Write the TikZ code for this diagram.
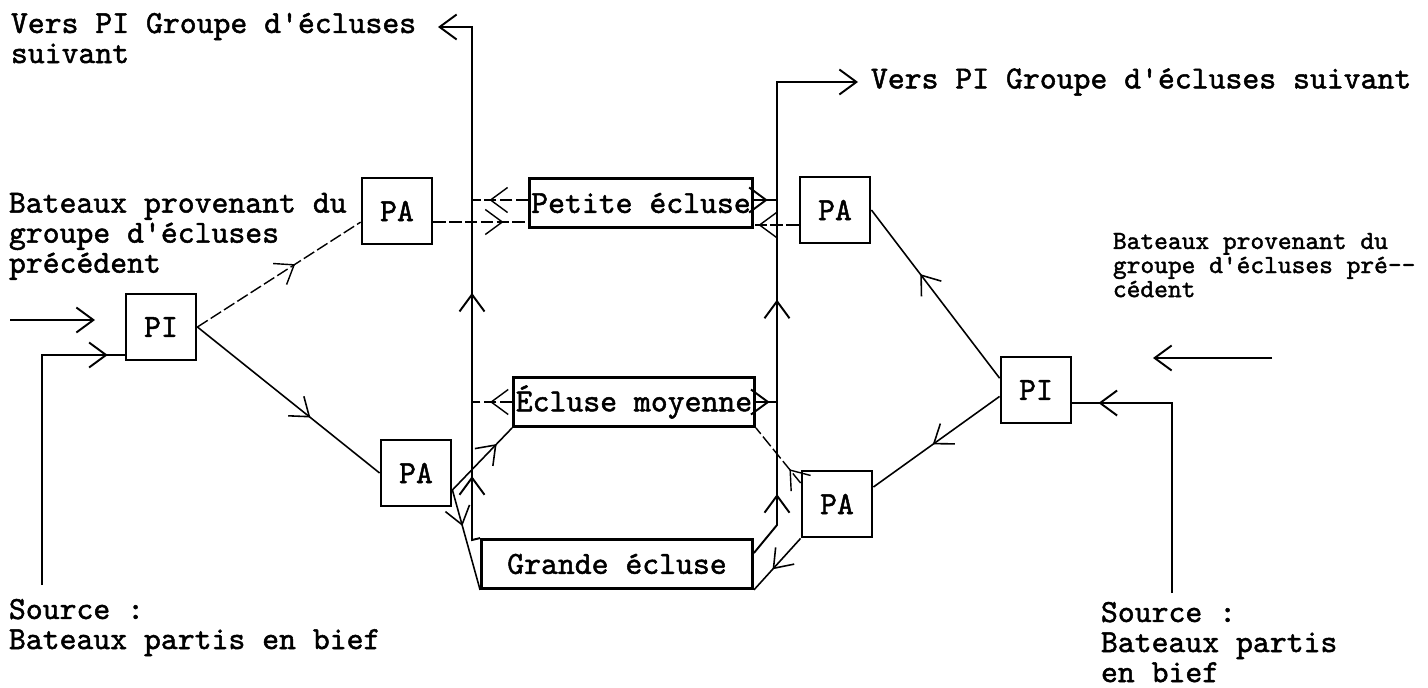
\documentclass[tikz,border=0pt]{standalone}
\usepackage{fontspec}
\setmonofont{lmmono10-regular.otf}[FakeBold=1.5]
\usetikzlibrary{positioning,arrows.meta,decorations.markings}

\begin{document}
\begin{tikzpicture}[x=0.2mm,y=-0.2mm,line width=1.1pt,
  >={Straight Barb[length=3.4mm,width=5mm]},
  font=\ttfamily\fontsize{18.3}{17.1}\selectfont,
  poste/.style={draw,line width=1.6pt,minimum width=14mm,minimum height=13.2mm,inner sep=0pt},
  ecluse/.style={draw,line width=1.6pt,minimum height=9.8mm,inner sep=0pt},
  txt/.style={anchor=north west,align=left,inner sep=0pt},
  mid/.style={postaction={decorate,decoration={markings,mark=at position #1 with {\arrow{>}}}}},
  tiret/.style={dash pattern=on 7pt off 2pt,line width=0.8pt},
  fin/.style={line width=0.9pt}]
  \useasboundingbox (0,0) rectangle (1428,688);

  % postes
  \node[poste] (piL) at (161,327) {PI};
  \node[poste] (paLT) at (397,211) {PA};
  \node[poste] (paLB) at (416,473) {PA};
  \node[poste] (paRT) at (835,210) {PA};
  \node[poste] (paRB) at (837,504) {PA};
  \node[poste] (piR) at (1036,390) {PI};
  % ecluses
  \node[ecluse,minimum width=44.6mm] (petite) at (641,203) {Petite écluse};
  \node[ecluse,minimum width=48.2mm] (moyenne) at (634,402) {Écluse moyenne};
  \node[ecluse,minimum width=54.2mm] (grande) at (617,564) {Grande écluse};

  % collecteurs
  \coordinate (cLh) at (472,27);
  \coordinate (cLb) at (472,540);
  \coordinate (vL) at (438,27);
  \coordinate (cRh) at (777,82);
  \coordinate (cRb) at (777,525);
  \coordinate (vR) at (858,82);
  \coordinate (eL) at (10,320);
  \coordinate (eLp) at (95,320);
  \coordinate (sL) at (42,585);
  \coordinate (eR) at (1272,358);
  \coordinate (eRp) at (1153,358);
  \coordinate (sR) at (1172,593);

  % textes
  \node[txt] (tVersL) at (10,12) {Vers PI Groupe d'écluses\\suivant};
  \node[txt,right=2.4mm of vR] (tVersR) {Vers PI Groupe d'écluses suivant};
  \node[txt] (tBatL) at (8,192) {Bateaux provenant du\\groupe d'écluses\\précédent};
  \node[txt,font=\ttfamily\fontsize{14.9}{13.7}\selectfont] (tBatR) at (1112,232) {Bateaux provenant du\\groupe d'écluses pré-{}-\\cédent};
  \node[txt] (tSrcL) at (8,598) {Source :\\Bateaux partis en bief};
  \node[txt] (tSrcR) at (1100,601) {Source :\\Bateaux partis\\en bief};

  % cote gauche
  \draw[->] (eL) -- (eLp);
  \draw[mid=0.946] (sL) |- ([yshift=-5.6mm]piL.west);
  \draw[tiret,mid=0.6] (piL.east) -- (paLT.197);
  \draw[fin,mid=0.62] (piL.east) -- (paLB.west);
  \draw[tiret,mid=0.74] ([yshift=-2.2mm]paLT.east) -- ([yshift=-2.2mm]paLT.east -| petite.west);
  \draw[fin,mid=0.74] (paLB.-25) -- (moyenne.south west);
  \draw[fin,mid=0.36] (paLB.-25) -- (grande.south west);

  % sorties des ecluses
  \draw[tiret,mid=0.69] ([yshift=0.6mm]petite.west) -- ([yshift=0.6mm]petite.west -| cLh);
  \draw[mid=0.6] ([yshift=0.6mm]petite.east) -- ([yshift=0.6mm]petite.east -| cRh);
  \draw[tiret,mid=0.55] (moyenne.west) -- (moyenne.west -| cLh);
  \draw[mid=0.65] (moyenne.east) -- (moyenne.east -| cRh);
  \draw[mid=0.13,mid=0.46,->] (grande.north west) -- (cLb) -- (cLh) -- (vL);
  \draw[mid=0.12,mid=0.467,->] ([yshift=2.2mm]grande.east) -- (cRb) -- (cRh) -- (vR);

  % cote droit
  \draw[tiret,mid=0.9] ([yshift=-3mm]paRT.west) -- ([yshift=-3mm]paRT.west -| petite.east);
  \draw[tiret,mid=0.25] (paRB.150) -- (moyenne.south east);
  \draw[fin,mid=0.6] (paRB.south west) -- (grande.south east);
  \draw[fin,mid=0.62] (piR.162) -- (paRT.east);
  \draw[fin,mid=0.53] (piR.190) -- (paRB.25);
  \draw[->] (eR) -- (eRp);
  \draw[mid=0.91] (sR) |- ([yshift=-2.6mm]piR.east);
\end{tikzpicture}
\end{document}
